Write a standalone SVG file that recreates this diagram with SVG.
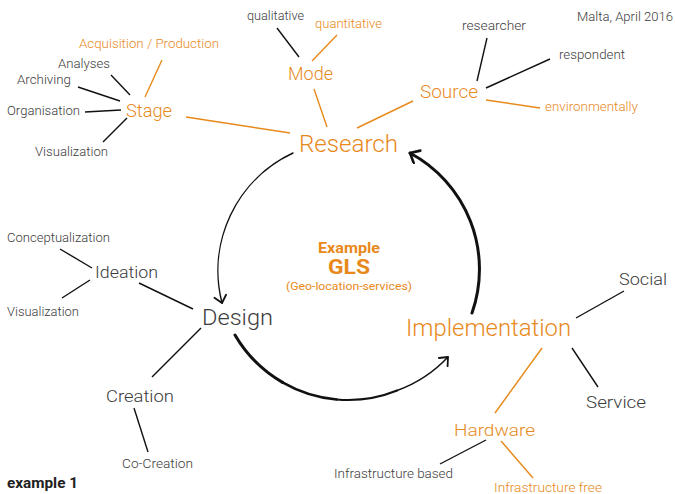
<svg xmlns="http://www.w3.org/2000/svg" width="675" height="494" viewBox="0 0 675 494">
<defs>
<style>
text{font-family:Roboto,"DejaVu Sans","Liberation Sans",sans-serif;fill:#3c3c3c;font-weight:300}
.o{fill:#E8891C}
.b{font-weight:700}
.lk{stroke:#111;stroke-width:1.4;fill:none}
.lo{stroke:#E8891C;stroke-width:1.4;fill:none}
.arc{stroke:#111;fill:none;stroke-linecap:round}
</style>
<marker id="ah" markerUnits="userSpaceOnUse" markerWidth="16" markerHeight="16" refX="9" refY="7" orient="auto" viewBox="0 0 16 16">
<path d="M2,1 L9,7 L2,13" fill="none" stroke="#111" stroke-width="1.8" stroke-linecap="round" stroke-linejoin="round"/>
</marker>
<marker id="ah2" markerUnits="userSpaceOnUse" markerWidth="18" markerHeight="18" refX="10" refY="8" orient="auto" viewBox="0 0 18 18">
<path d="M2,1 L10,8 L2,15" fill="none" stroke="#111" stroke-width="2.6" stroke-linecap="round" stroke-linejoin="round"/>
</marker>
</defs>
<rect width="675" height="494" fill="#fff"/>

<g id="connectors">
<!-- Stage -->
<line class="lo" x1="145" y1="97" x2="162" y2="60"/>
<line class="lk" x1="130" y1="95" x2="111" y2="75"/>
<line class="lk" x1="120" y1="101" x2="78" y2="87"/>
<line class="lk" x1="121" y1="110" x2="85" y2="112"/>
<line class="lk" x1="127" y1="118" x2="103" y2="142"/>
<line class="lo" x1="186" y1="117" x2="290" y2="133"/>
<!-- Mode -->
<line class="lk" x1="277" y1="28" x2="299" y2="57"/>
<line class="lo" x1="312" y1="61" x2="337" y2="35"/>
<line class="lo" x1="314" y1="89" x2="327" y2="127"/>
<!-- Source -->
<line class="lk" x1="487" y1="38" x2="477" y2="81"/>
<line class="lk" x1="486" y1="88" x2="550" y2="59"/>
<line class="lo" x1="486" y1="100" x2="540" y2="108"/>
<line class="lo" x1="413" y1="101" x2="357" y2="128"/>
<!-- Ideation / Design -->
<line class="lk" x1="60" y1="249" x2="92" y2="268"/>
<line class="lk" x1="62" y1="298" x2="90" y2="280"/>
<line class="lk" x1="139" y1="283" x2="193" y2="309"/>
<line class="lk" x1="201" y1="328" x2="152" y2="377"/>
<line class="lk" x1="134" y1="408" x2="148" y2="452"/>
<!-- Implementation -->
<line class="lk" x1="576" y1="318" x2="624" y2="291"/>
<line class="lk" x1="572" y1="348" x2="598" y2="387"/>
<line class="lo" x1="542" y1="348" x2="495" y2="413"/>
<line class="lk" x1="486" y1="440" x2="440" y2="464"/>
<line class="lo" x1="501" y1="441" x2="533" y2="478"/>
<!-- cycle arcs -->
<path class="arc" stroke-width="1.4" d="M293,153 A130,130 0 0 0 222,303" marker-end="url(#ah)"/>
<path class="arc" stroke-width="3" d="M235,335 A131,131 0 0 0 282.5,382.4"/>
<path class="arc" stroke-width="2.6" d="M282.5,382.4 A131,131 0 0 0 336.6,399.5"/>
<path class="arc" stroke-width="2.1" d="M336.6,399.5 A131,131 0 0 0 397.1,390.5"/>
<path class="arc" stroke-width="1.5" d="M397.1,390.5 A131,131 0 0 0 448,357" marker-end="url(#ah)"/>
<path class="arc" stroke-width="3" d="M472,313 A132,132 0 0 0 410,153" marker-end="url(#ah2)"/>
</g>

<g id="title"><text x="577" y="21" font-size="12" textLength="96" lengthAdjust="spacingAndGlyphs">Malta, April 2016</text></g>
<g id="footer"><text x="7" y="488" font-size="14" class="b" style="fill:#222;font-weight:700" textLength="71" lengthAdjust="spacingAndGlyphs">example 1</text></g>

<g id="center">
<text x="349" y="253" font-size="14" class="o b" text-anchor="middle" textLength="62" lengthAdjust="spacingAndGlyphs">Example</text>
<text x="349" y="274" font-size="21" class="o b" text-anchor="middle" textLength="42" lengthAdjust="spacingAndGlyphs">GLS</text>
<text x="349" y="290" font-size="10.5" class="o" style="font-weight:400" text-anchor="middle" textLength="126" lengthAdjust="spacingAndGlyphs">(Geo-location-services)</text>
</g>

<g id="research"><text x="299" y="152" font-size="23" class="o" textLength="99" lengthAdjust="spacingAndGlyphs">Research</text></g>
<g id="stage"><text x="126" y="117" font-size="18" class="o" textLength="46" lengthAdjust="spacingAndGlyphs">Stage</text></g>
<g id="acquisition"><text x="79" y="48" font-size="13" class="o" textLength="140" lengthAdjust="spacingAndGlyphs">Acquisition / Production</text></g>
<g id="analyses"><text x="58" y="68" font-size="13" textLength="52" lengthAdjust="spacingAndGlyphs">Analyses</text></g>
<g id="archiving"><text x="17" y="84" font-size="13" textLength="54" lengthAdjust="spacingAndGlyphs">Archiving</text></g>
<g id="organisation"><text x="7" y="115" font-size="13" textLength="73" lengthAdjust="spacingAndGlyphs">Organisation</text></g>
<g id="visualization1"><text x="35" y="156" font-size="13" textLength="73" lengthAdjust="spacingAndGlyphs">Visualization</text></g>
<g id="mode"><text x="288" y="80" font-size="18" class="o" textLength="45" lengthAdjust="spacingAndGlyphs">Mode</text></g>
<g id="qualitative"><text x="247" y="20" font-size="13" textLength="57" lengthAdjust="spacingAndGlyphs">qualitative</text></g>
<g id="quantitative"><text x="315" y="28" font-size="13" class="o" textLength="67" lengthAdjust="spacingAndGlyphs">quantitative</text></g>
<g id="source"><text x="420" y="98" font-size="18" class="o" textLength="58" lengthAdjust="spacingAndGlyphs">Source</text></g>
<g id="researcher"><text x="462" y="30" font-size="13" textLength="64" lengthAdjust="spacingAndGlyphs">researcher</text></g>
<g id="respondent"><text x="559" y="59" font-size="13" textLength="66" lengthAdjust="spacingAndGlyphs">respondent</text></g>
<g id="environmentally"><text x="545" y="111" font-size="13" class="o" textLength="93" lengthAdjust="spacingAndGlyphs">environmentally</text></g>

<g id="design"><text x="202" y="325" font-size="22" textLength="71" lengthAdjust="spacingAndGlyphs">Design</text></g>
<g id="ideation"><text x="95" y="278" font-size="17" textLength="63" lengthAdjust="spacingAndGlyphs">Ideation</text></g>
<g id="conceptualization"><text x="7" y="242" font-size="12" textLength="103" lengthAdjust="spacingAndGlyphs">Conceptualization</text></g>
<g id="visualization2"><text x="7" y="316" font-size="12" textLength="72" lengthAdjust="spacingAndGlyphs">Visualization</text></g>
<g id="creation"><text x="106" y="402" font-size="17" textLength="68" lengthAdjust="spacingAndGlyphs">Creation</text></g>
<g id="cocreation"><text x="122" y="468" font-size="12" textLength="71" lengthAdjust="spacingAndGlyphs">Co-Creation</text></g>

<g id="implementation"><text x="406" y="336" font-size="23" class="o" textLength="165" lengthAdjust="spacingAndGlyphs">Implementation</text></g>
<g id="social"><text x="619" y="285" font-size="17" textLength="48" lengthAdjust="spacingAndGlyphs">Social</text></g>
<g id="service"><text x="586" y="408" font-size="17" textLength="60" lengthAdjust="spacingAndGlyphs">Service</text></g>
<g id="hardware"><text x="454" y="436" font-size="17" class="o" textLength="81" lengthAdjust="spacingAndGlyphs">Hardware</text></g>
<g id="infra-based"><text x="334" y="478" font-size="12" textLength="119" lengthAdjust="spacingAndGlyphs">Infrastructure based</text></g>
<g id="infra-free"><text x="494" y="492" font-size="12" class="o" textLength="108" lengthAdjust="spacingAndGlyphs">Infrastructure free</text></g>
</svg>
